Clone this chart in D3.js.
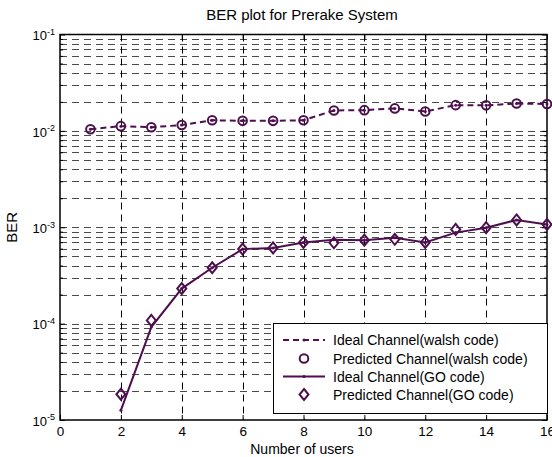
<!DOCTYPE html>
<html><head><meta charset="utf-8">
<script src="https://cdn.jsdelivr.net/npm/d3@7"></script>
<style>
body{margin:0;background:#fff;}
svg{display:block;font-family:Arial,"Liberation Sans",sans-serif;}
</style></head>
<body><svg id="c" width="552" height="457"></svg>
<script>
const users = [1,2,3,4,5,6,7,8,9,10,11,12,13,14,15,16];
const idealWalsh =     [0.0104,0.0112,0.0109,0.0115,0.0129,0.0127,0.0127,0.0129,0.0163,0.0164,0.0171,0.0159,0.0185,0.0184,0.0192,0.0190];
const predictedWalsh = [0.0104,0.0112,0.0109,0.0115,0.0129,0.0127,0.0127,0.0129,0.0163,0.0164,0.0171,0.0159,0.0185,0.0184,0.0192,0.0190];
const goUsers = [2,3,4,5,6,7,8,9,10,11,12,13,14,15,16];
const idealGO =     [1.26e-5,9.2e-5,2.31e-4,3.8e-4,5.93e-4,6.1e-4,6.95e-4,7.4e-4,7.35e-4,7.8e-4,6.95e-4,8.8e-4,9.9e-4,1.19e-3,1.07e-3];
const predictedGO = [1.85e-5,1.08e-4,2.31e-4,3.8e-4,5.93e-4,6.1e-4,6.95e-4,6.9e-4,7.35e-4,7.5e-4,6.95e-4,9.5e-4,9.9e-4,1.19e-3,1.07e-3];
const xTicks = [0,2,4,6,8,10,12,14,16];
const yTickExps = [-5,-4,-3,-2,-1];
const legendLabels = ["Ideal Channel(walsh code)","Predicted Channel(walsh code)","Ideal Channel(GO code)","Predicted Channel(GO code)"];
const titleText = "BER plot for Prerake System";
const xLabel = "Number of users";
const yLabel = "BER";

const color = "#4d0f4d";
const L = 60, R = 547, T = 34.5, B = 420;
const svg = d3.select("#c");
const x = d3.scaleLinear().domain([0,16]).range([L,R]);
const y = d3.scaleLog().domain([1e-5,1e-1]).range([B,T]);

const minorVals = [];
for (let e=-5;e<-1;e++) for (let m=2;m<=9;m++) minorVals.push(m*Math.pow(10,e));
const majorVals = yTickExps.map(e=>Math.pow(10,e));

// grid
const g = svg.append("g");
g.selectAll("line.hg").data(minorVals.concat(majorVals.slice(1,-1))).enter().append("line")
  .attr("x1",L).attr("x2",R).attr("y1",d=>Math.round(y(d))+0.5).attr("y2",d=>Math.round(y(d))+0.5)
  .attr("stroke","#4a4a4a").attr("stroke-width",1).attr("stroke-dasharray","7,5");
g.selectAll("line.vg").data(xTicks.slice(1,-1)).enter().append("line")
  .attr("x1",d=>Math.round(x(d))+0.5).attr("x2",d=>Math.round(x(d))+0.5).attr("y1",T).attr("y2",B)
  .attr("stroke","#000").attr("stroke-width",1).attr("stroke-dasharray","7,5");

// axes
const ax = svg.append("g").attr("transform",`translate(0,${B})`)
  .call(d3.axisBottom(x).tickValues(xTicks).tickSize(-5).tickPadding(6).tickFormat(d3.format("d")));
const axTop = svg.append("g").attr("transform",`translate(0,${T})`)
  .call(d3.axisTop(x).tickValues(xTicks).tickSize(-5).tickFormat(""));
const ay = svg.append("g").attr("transform",`translate(${L},0)`)
  .call(d3.axisLeft(y).tickValues(majorVals).tickSize(-5).tickPadding(5).tickFormat(()=>""));
const ayMinor = svg.append("g").attr("transform",`translate(${L},0)`)
  .call(d3.axisLeft(y).tickValues(minorVals).tickSize(-3).tickFormat(""));
const ayR = svg.append("g").attr("transform",`translate(${R},0)`)
  .call(d3.axisRight(y).tickValues(majorVals).tickSize(-5).tickFormat(""));
const ayRMinor = svg.append("g").attr("transform",`translate(${R},0)`)
  .call(d3.axisRight(y).tickValues(minorVals).tickSize(-3).tickFormat(""));
[ax,axTop,ay,ayMinor,ayR,ayRMinor].forEach(a=>{
  a.select(".domain").remove();
  a.selectAll(".tick line").attr("stroke","#000");
  a.selectAll("text").attr("fill","#000").attr("font-family","Arial, 'Liberation Sans', sans-serif");
});
ax.selectAll("text").attr("font-size",13.5);
ay.selectAll(".tick text").attr("font-size",13).each(function(d){
  const t = d3.select(this);
  t.text(null).attr("dy","0.4em");
  t.append("tspan").text("10");
  t.append("tspan").attr("dy","-0.6em").attr("font-size",9).text(String(Math.round(Math.log10(d))));
});
// box
svg.append("rect").attr("x",L).attr("y",T).attr("width",R-L).attr("height",B-T)
  .attr("fill","none").attr("stroke","#000").attr("stroke-width",1.5);

// series
const lineW = d3.line().x((d,i)=>x(users[i])).y(d=>y(d));
const lineG = d3.line().x((d,i)=>x(goUsers[i])).y(d=>y(d));
svg.append("path").attr("d",lineW(idealWalsh)).attr("fill","none").attr("stroke",color)
  .attr("stroke-width",2).attr("stroke-dasharray","6,4");
svg.append("path").attr("d",lineG(idealGO)).attr("fill","none").attr("stroke",color).attr("stroke-width",2);
svg.selectAll("circle.dw").data(idealWalsh).enter().append("circle")
  .attr("cx",(d,i)=>x(users[i])).attr("cy",d=>y(d)).attr("r",1.5).attr("fill",color);
svg.selectAll("circle.dg").data(idealGO).enter().append("circle")
  .attr("cx",(d,i)=>x(goUsers[i])).attr("cy",d=>y(d)).attr("r",1.5).attr("fill",color);
svg.selectAll("circle.pw").data(predictedWalsh).enter().append("circle")
  .attr("cx",(d,i)=>x(users[i])).attr("cy",d=>y(d)).attr("r",4.3)
  .attr("fill","none").attr("stroke",color).attr("stroke-width",2);
const diamond = (cx,cy)=>`M${cx},${cy-5.5}L${cx+4.5},${cy}L${cx},${cy+5.5}L${cx-4.5},${cy}Z`;
svg.selectAll("path.pg").data(predictedGO).enter().append("path")
  .attr("d",(d,i)=>diamond(x(goUsers[i]),y(d)))
  .attr("fill","none").attr("stroke",color).attr("stroke-width",2);

// title & labels
svg.append("text").attr("x",302).attr("y",20).attr("text-anchor","middle")
  .attr("font-size",15).text(titleText);
svg.append("text").attr("x",302).attr("y",454).attr("text-anchor","middle")
  .attr("font-size",14).text(xLabel);
svg.append("text").attr("transform",`translate(17,${(T+B)/2}) rotate(-90)`).attr("text-anchor","middle")
  .attr("font-size",15).text(yLabel);

// legend
const lg = svg.append("g");
const lx0 = 273.5, ly0 = 323.5, lw = 274, lh = 90;
lg.append("rect").attr("x",lx0).attr("y",ly0).attr("width",lw).attr("height",lh)
  .attr("fill","#fff").attr("stroke","#000").attr("stroke-width",1);
const rowY = [340,358.5,376.5,394.5];
legendLabels.forEach((lab,i)=>{
  const ry = rowY[i];
  if (i===0 || i===2) {
    lg.append("line").attr("x1",283).attr("x2",325).attr("y1",ry).attr("y2",ry)
      .attr("stroke",color).attr("stroke-width",2).attr("stroke-dasharray",i===0?"6,4":null);
    lg.append("circle").attr("cx",304).attr("cy",ry).attr("r",1.5).attr("fill",color);
  } else if (i===1) {
    lg.append("circle").attr("cx",304).attr("cy",ry).attr("r",4.3).attr("fill","none").attr("stroke",color).attr("stroke-width",2);
  } else {
    lg.append("path").attr("d",diamond(304,ry)).attr("fill","none").attr("stroke",color).attr("stroke-width",2);
  }
  lg.append("text").attr("x",333).attr("y",ry+5).attr("font-size",14).text(lab);
});
</script></body></html>
